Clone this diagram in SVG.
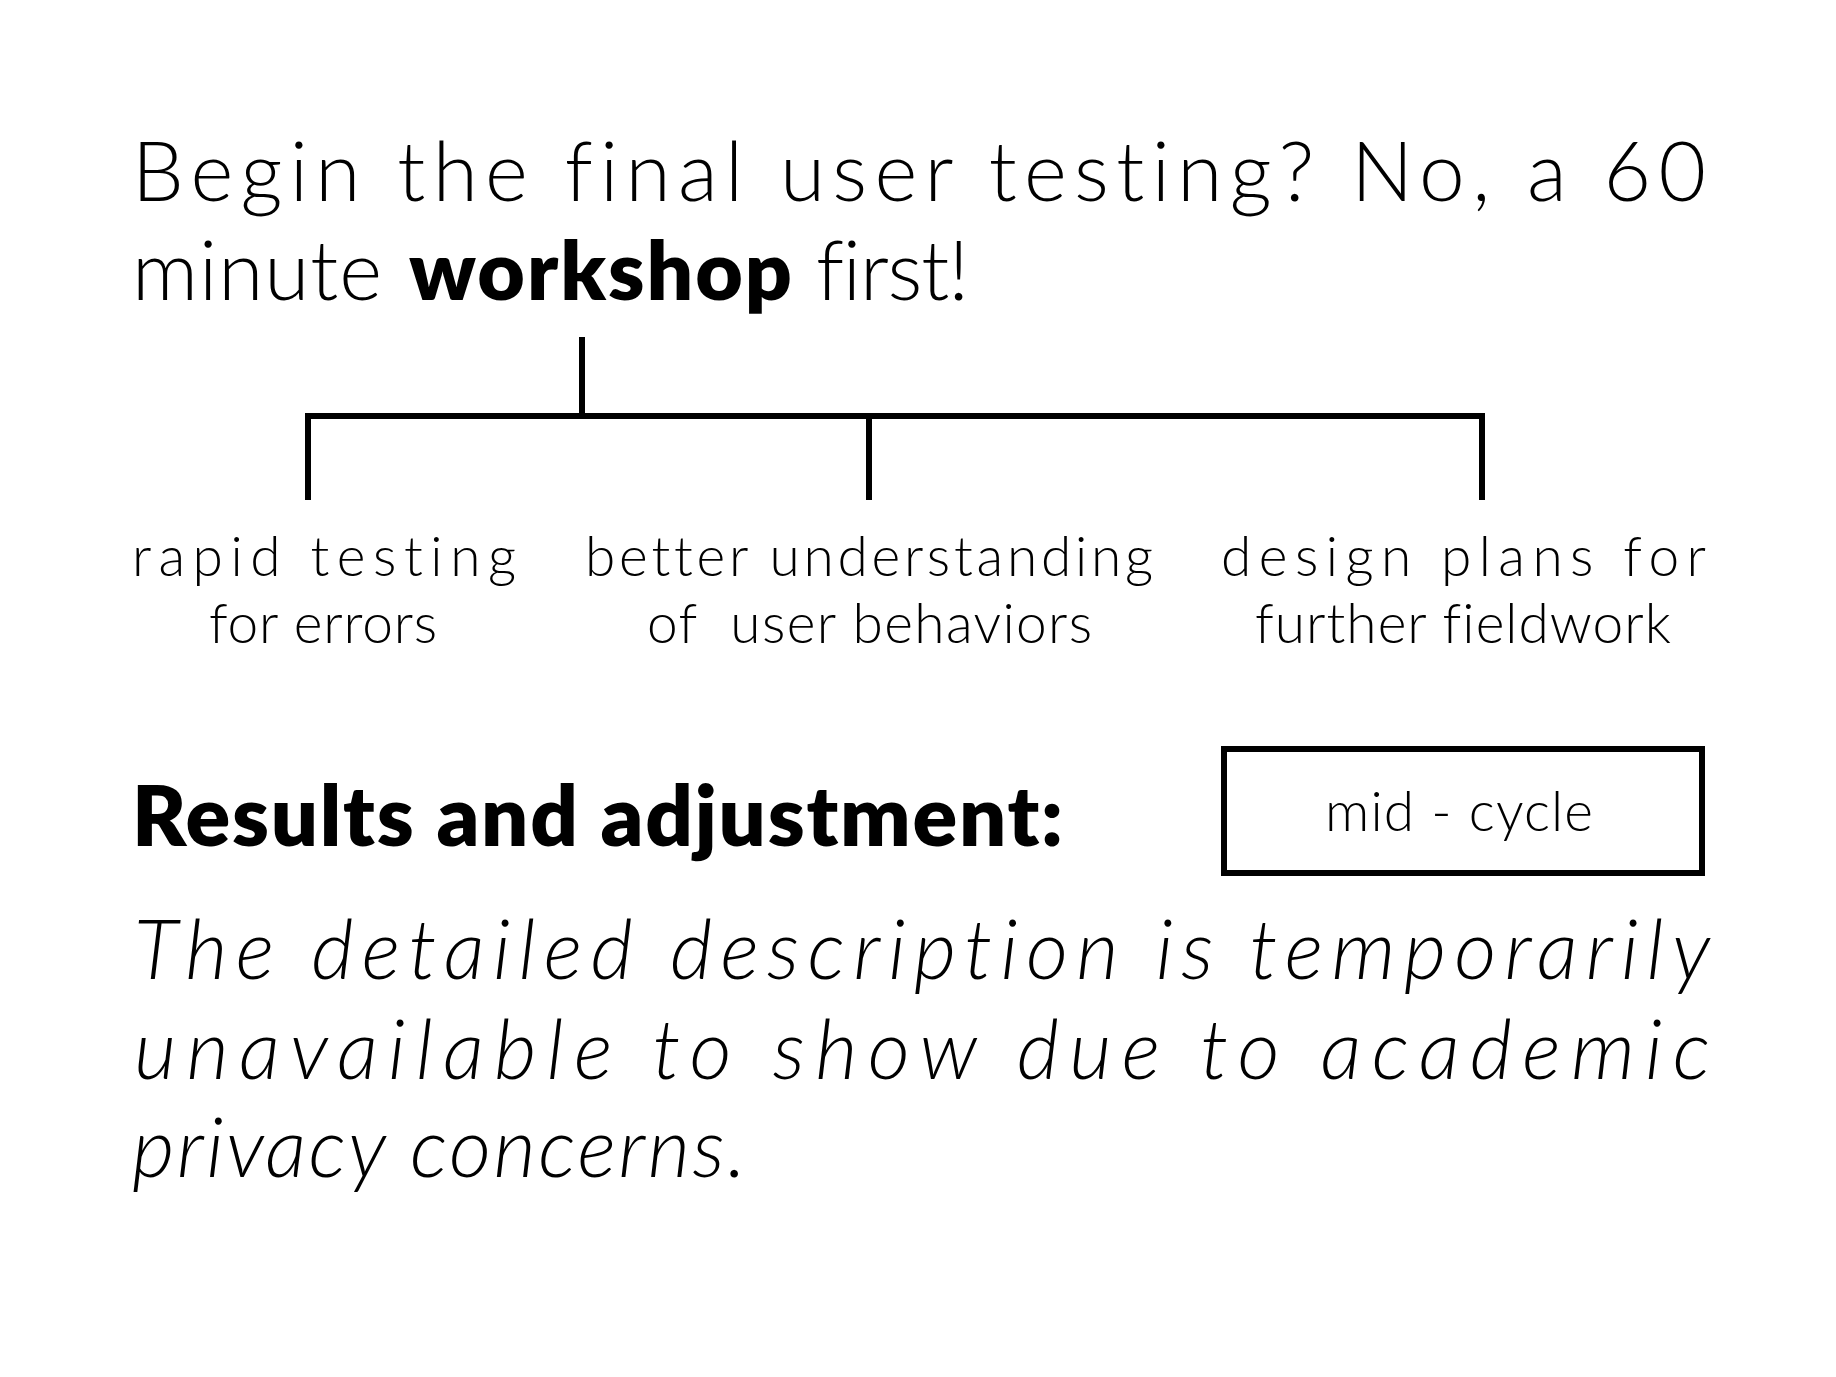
<svg xmlns="http://www.w3.org/2000/svg" width="1836" height="1377" viewBox="0 0 1836 1377">
<style>
  text { font-family: "Lato", "Open Sans", "Liberation Sans", sans-serif; fill: #000; font-variant-ligatures: none; font-feature-settings: "liga" 0, "clig" 0, "dlig" 0; }
  .title { font-size: 82px; font-weight: 300; }
  .b { font-weight: 800; }
  .lbl { font-size: 55px; font-weight: 300; text-anchor: start; }
  .head { font-size: 83px; font-weight: 800; }
  .it { font-size: 82px; font-weight: 300; font-style: italic; }
  .conn { stroke: #000; stroke-width: 6; fill: none; stroke-linecap: butt; }
  .box { stroke: #000; stroke-width: 6; fill: #fff; }
</style>
<rect width="1836" height="1377" fill="#fff"/>
<g id="title">
  <text class="title" x="132" y="201" textLength="1574" lengthAdjust="spacing">Begin the final user testing? No, a 60</text>
  <text class="title" y="300"><tspan x="132" textLength="250" lengthAdjust="spacing">minute</tspan><tspan class="b" x="409" textLength="383" lengthAdjust="spacing">workshop</tspan><tspan x="816" textLength="153" lengthAdjust="spacing">first!</tspan></text>
</g>
<g id="connectors">
  <path class="conn" d="M582 337 V416 M305 416 H1485 M308 416 V500 M869 416 V500 M1482 416 V500"/>
</g>
<g id="label-rapid">
  <text class="lbl" x="132" y="576" textLength="384" lengthAdjust="spacing">rapid testing</text>
  <text class="lbl" x="209" y="643" textLength="228" lengthAdjust="spacing">for errors</text>
</g>
<g id="label-better">
  <text class="lbl" x="585" y="576" textLength="568" lengthAdjust="spacing">better understanding</text>
  <text class="lbl" x="647" y="643" textLength="445" lengthAdjust="spacing">of&#160; user behaviors</text>
</g>
<g id="label-design">
  <text class="lbl" x="1221" y="576" textLength="485" lengthAdjust="spacing">design plans for</text>
  <text class="lbl" x="1255" y="643" textLength="416" lengthAdjust="spacing">further fieldwork</text>
</g>
<g id="results">
  <text class="head" x="132" y="846" textLength="931" lengthAdjust="spacing">Results and adjustment:</text>
</g>
<g id="mid-cycle">
  <rect class="box" x="1224" y="749" width="478" height="124"/>
  <text class="lbl" x="1325" y="831" textLength="268" lengthAdjust="spacing">mid - cycle</text>
</g>
<g id="description">
  <text class="it" x="134" y="979" textLength="1576" lengthAdjust="spacing">The detailed description is temporarily</text>
  <text class="it" x="134" y="1079" textLength="1576" lengthAdjust="spacing">unavailable to show due to academic</text>
  <text class="it" x="132" y="1177" textLength="614" lengthAdjust="spacing">privacy concerns.</text>
</g>
</svg>
